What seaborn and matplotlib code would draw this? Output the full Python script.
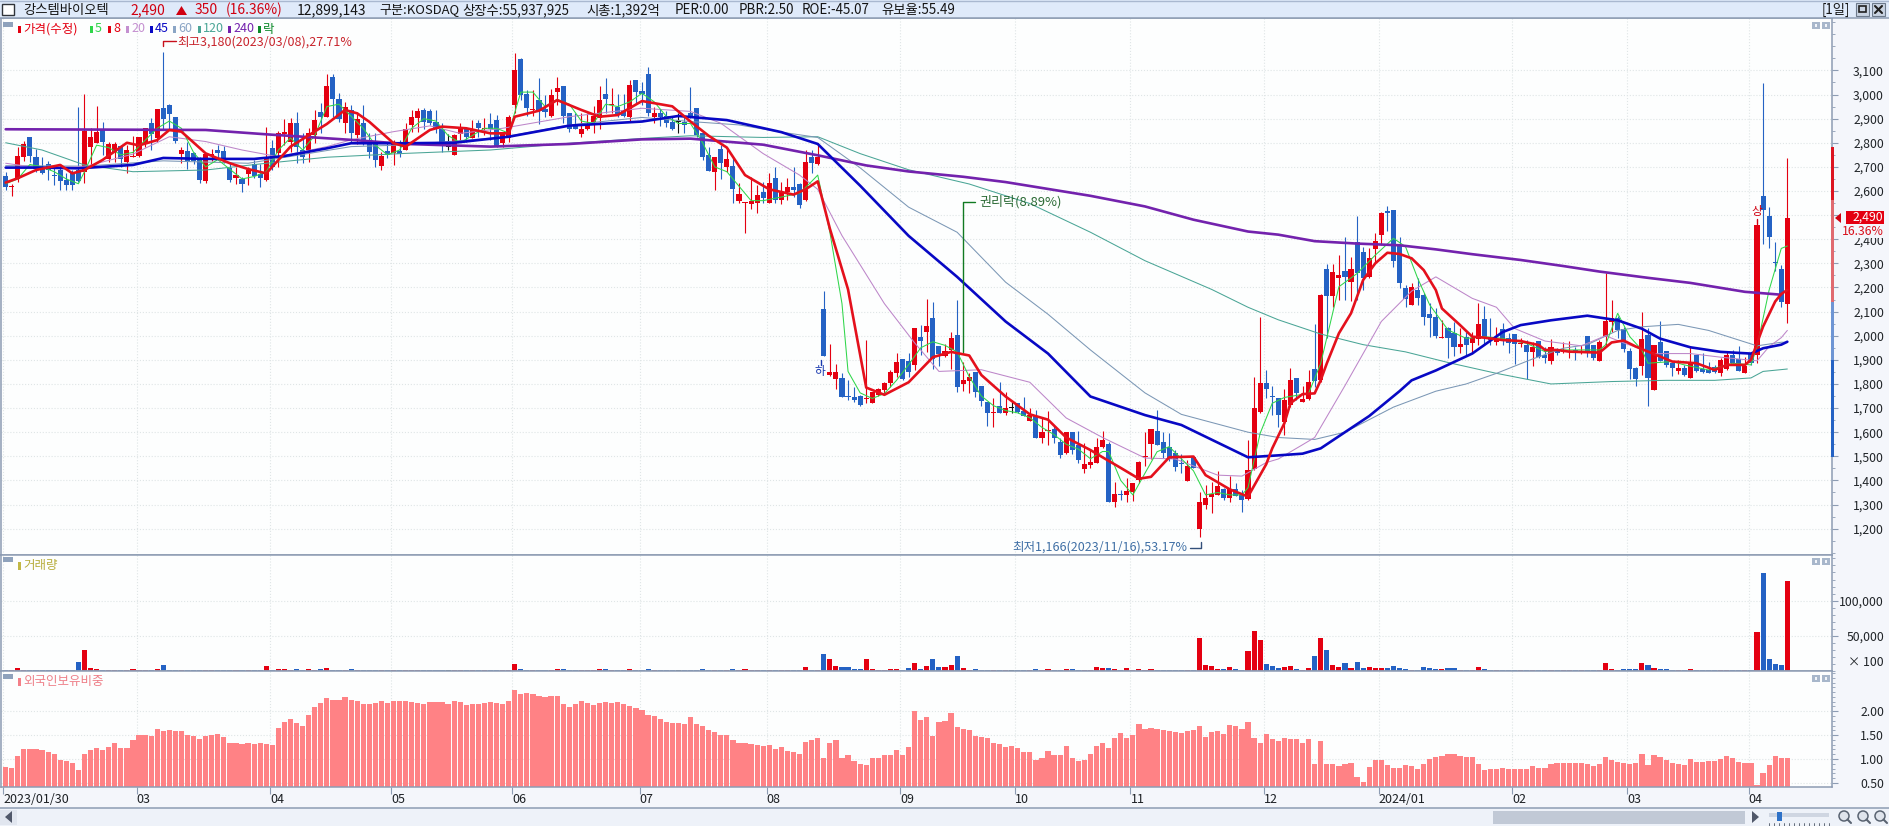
import numpy as np
import pandas as pd
import seaborn as sns
import matplotlib.pyplot as plt
from matplotlib.patches import Rectangle, Circle, Polygon
from matplotlib.ticker import MultipleLocator

# candles (price won)
opens = [
    2663,2615,2648,2739,2822,2739,2693,2710,2666,2689,
    2645,2675,2687,2680,2783,2800,2855,2731,2763,2786,
    2721,2739,2745,2797,2883,2818,2946,2956,2905,2753,
    2767,2756,2735,2642,2745,2770,2764,2694,2653,2648,
    2671,2712,2670,2646,2777,2756,2838,2805,2883,2770,
    2770,2832,2929,2908,3074,2980,2883,2936,2832,2883,
    2812,2798,2705,2767,2759,2765,2772,2873,2901,2935,
    2933,2886,2855,2783,2750,2836,2861,2821,2880,2859,
    2877,2894,2797,2818,2955,3147,3002,2935,2977,2942,
    2910,3011,3035,2922,2877,2836,2858,2887,2901,3002,
    2955,2949,2935,2908,3060,3015,3085,2905,2922,2911,
    2884,2887,2887,2924,2946,2839,2749,2680,2773,2698,
    2704,2560,2549,2546,2552,2597,2552,2653,2563,2594,
    2615,2629,2563,2739,2712,2109,1837,1820,1823,1751,
    1747,1751,1736,1722,1754,1775,1805,1847,1902,1895,
    1879,1996,2015,2072,1957,1917,1941,2003,1800,1814,
    1848,1793,1727,1681,1710,1681,1702,1720,1689,1648,
    1666,1578,1604,1612,1558,1512,1599,1547,1446,1464,
    1474,1540,1550,1312,1344,1341,1353,1402,1496,1551,
    1605,1558,1537,1515,1474,1399,1496,1199,1299,1333,
    1340,1364,1328,1363,1340,1322,1446,1685,1803,1750,
    1740,1644,1713,1823,1726,1736,1861,1816,2275,2164,
    2241,2268,2224,2387,2346,2242,2359,2417,2517,2521,
    2373,2196,2129,2189,2167,2090,2076,1992,2030,2010,
    1954,1996,1971,1986,2069,1996,1975,2026,1989,2007,
    1966,1961,1934,1978,1920,1895,1941,1931,1931,1941,
    1931,1999,1962,1897,1996,2056,2075,2027,1937,1868,
    1876,2003,1775,1976,1938,1886,1854,1868,1826,1920,
    1862,1858,1872,1847,1861,1920,1902,1847,1925,1920,
    2580,2497,2305,2276,2130]
closes = [
    2615,2617,2745,2793,2745,2693,2675,2689,2662,2642,
    2624,2624,2642,2850,2822,2843,2804,2794,2794,2731,
    2770,2745,2822,2863,2836,2939,2899,2919,2808,2772,
    2721,2725,2645,2752,2752,2757,2727,2646,2666,2629,
    2687,2662,2652,2742,2701,2839,2843,2883,2784,2742,
    2839,2894,2908,3035,2980,2897,2950,2839,2897,2812,
    2763,2729,2745,2749,2795,2755,2859,2905,2931,2886,
    2883,2859,2804,2783,2832,2855,2825,2852,2862,2863,
    2859,2786,2844,2908,3101,2998,2946,2942,2933,2928,
    2998,3029,2910,2858,2858,2859,2877,2912,2977,2981,
    2960,2919,2910,3039,3010,3002,2924,2924,2905,2883,
    2859,2887,2873,2901,2832,2742,2684,2742,2717,2731,
    2608,2588,2556,2558,2583,2570,2632,2563,2597,2615,
    2604,2542,2719,2717,2739,1917,1851,1851,1747,1744,
    1733,1713,1740,1768,1778,1802,1848,1890,1819,1848,
    2031,1980,2042,1902,1923,1938,1989,1789,1816,1830,
    1768,1731,1678,1685,1681,1699,1702,1685,1669,1671,
    1578,1600,1607,1574,1505,1602,1526,1485,1468,1475,
    1537,1568,1312,1342,1338,1356,1388,1475,1501,1612,
    1547,1515,1487,1457,1468,1460,1453,1310,1326,1342,
    1377,1326,1364,1337,1319,1443,1699,1803,1778,1747,
    1671,1733,1816,1764,1737,1807,1814,2169,2164,2263,
    2252,2245,2275,2261,2238,2321,2393,2507,2510,2311,
    2220,2153,2200,2155,2079,2073,2000,1996,1992,1954,
    1966,1961,1989,2047,1989,1982,1985,1982,1971,1964,
    1971,1934,1954,1913,1907,1952,1930,1937,1937,1927,
    1933,1930,1907,1976,2061,2072,2024,1945,1862,1819,
    1987,1826,1962,1897,1879,1868,1868,1838,1886,1854,
    1851,1847,1851,1900,1920,1886,1855,1875,1886,2459,
    2522,2411,2300,2140,2490]
highs = [
    2680,2631,2781,2808,2825,2776,2742,2725,2700,2707,
    2673,2687,2949,3002,2863,2952,2887,2804,2804,2790,
    2790,2828,2825,2863,2901,2942,3177,2960,2908,2781,
    2804,2763,2742,2753,2775,2790,2785,2721,2700,2660,
    2700,2730,2714,2867,2810,2850,2900,2903,2929,2839,
    2863,2935,2964,3085,3085,3005,2970,2957,2929,2957,
    2839,2839,2763,2798,2812,2810,2880,2935,2946,2946,
    2942,2935,2883,2836,2836,2880,2866,2894,2894,2901,
    2922,2915,2846,2915,3173,3150,3018,3018,3067,2998,
    3021,3071,3035,2924,2922,2922,2922,2952,3035,3067,
    3025,3002,3002,3060,3060,3053,3115,2949,2942,2933,
    2905,2922,2905,3032,2946,2846,2783,2742,2790,2777,
    2742,2632,2556,2659,2625,2639,2673,2701,2639,2652,
    2698,2634,2770,2770,2798,2187,1966,1883,1844,1816,
    1789,1754,1982,1768,1782,1809,1858,1927,1902,1927,
    2031,2044,2151,2138,1957,1965,2017,2148,1892,1844,
    1848,1793,1727,1740,1809,1765,1727,1720,1747,1699,
    1690,1659,1689,1625,1574,1602,1599,1606,1554,1526,
    1574,1606,1561,1395,1360,1409,1388,1482,1599,1612,
    1692,1602,1595,1526,1510,1485,1496,1353,1381,1395,
    1440,1370,1418,1388,1360,1568,1827,2076,1858,1791,
    1740,1778,1865,1823,1791,1858,2049,2173,2297,2297,
    2334,2408,2328,2496,2369,2362,2424,2514,2538,2521,
    2411,2210,2217,2238,2176,2134,2113,2065,2037,2058,
    2030,2017,2017,2137,2123,2072,2037,2051,2010,2007,
    1989,1982,1975,1978,1954,1985,1950,1976,1980,1955,
    1962,1999,1962,1983,2262,2148,2080,2038,1948,1872,
    2097,2031,1962,2061,1938,1893,1900,1879,1958,1920,
    1930,1889,1879,1906,1934,1941,1958,1911,1928,2459,
    3049,2533,2390,2294,2736]
lows = [
    2606,2580,2638,2725,2721,2680,2670,2645,2624,2606,
    2604,2604,2638,2634,2698,2797,2749,2721,2721,2698,
    2673,2739,2742,2783,2770,2804,2852,2852,2797,2717,
    2693,2711,2634,2634,2725,2740,2715,2638,2631,2597,
    2625,2655,2618,2640,2687,2700,2790,2760,2715,2715,
    2721,2797,2840,2908,2908,2887,2839,2798,2795,2791,
    2736,2701,2687,2736,2708,2740,2770,2846,2846,2859,
    2873,2839,2763,2770,2749,2811,2804,2818,2825,2832,
    2811,2783,2781,2804,2922,2977,2910,2910,2876,2908,
    2905,2956,2880,2846,2855,2822,2852,2841,2859,2922,
    2924,2905,2905,2887,2960,2956,2910,2883,2869,2866,
    2852,2839,2841,2901,2825,2728,2684,2604,2648,2680,
    2552,2549,2424,2524,2510,2549,2549,2549,2546,2563,
    2574,2528,2560,2673,2708,1917,1833,1778,1747,1733,
    1726,1710,1722,1720,1750,1754,1789,1827,1816,1827,
    1858,1920,1934,1861,1874,1910,1861,1768,1772,1761,
    1745,1710,1626,1622,1681,1671,1681,1678,1667,1645,
    1574,1556,1548,1557,1492,1510,1510,1471,1432,1450,
    1471,1533,1312,1291,1319,1312,1316,1391,1460,1487,
    1547,1494,1482,1440,1432,1396,1450,1166,1280,1264,
    1340,1319,1312,1335,1270,1320,1443,1678,1743,1671,
    1623,1588,1706,1733,1724,1734,1786,1809,1989,2120,
    2148,2148,2145,2148,2189,2240,2300,2376,2435,2286,
    2196,2118,2127,2127,2044,1996,1989,1990,1906,1917,
    1927,1920,1927,1961,1961,1961,1961,1961,1927,1883,
    1952,1819,1874,1906,1888,1883,1920,1928,1907,1900,
    1925,1911,1900,1895,1962,2017,1990,1934,1820,1792,
    1837,1710,1773,1895,1869,1831,1842,1835,1824,1851,
    1847,1844,1845,1831,1858,1880,1852,1845,1880,1886,
    2381,2363,2270,2121,2054]

volumes = [
    2000,2000,4700,2000,2000,2000,2000,2000,2000,2000,
    2000,2000,13200,30200,4700,3300,2000,2000,2000,2000,
    2000,3300,2000,2000,2000,3300,9000,2000,2000,2000,
    2000,2000,2000,2000,2000,2000,2000,2000,2000,2000,
    2000,2000,2000,7500,2000,3300,3300,2000,3300,2000,
    3300,2000,3300,4700,2000,2000,2000,3300,2000,2000,
    2000,2000,2000,2000,2000,2000,2000,2000,2000,2000,
    2000,2000,2000,2000,2000,2000,2000,2000,2000,2000,
    2400,2000,2000,2000,10400,3300,2000,2000,2000,2000,
    2000,3300,3300,2000,2000,2000,2000,2000,3300,3300,
    2000,2000,2000,3300,2000,2000,3300,2000,2000,2000,
    2000,2000,2000,2400,2000,3300,2000,2000,2000,2000,
    3300,2000,3300,2000,2000,2000,2000,2000,2000,2000,
    2000,2000,6100,2000,2000,24500,17500,7500,6100,6100,
    3300,3300,17500,3300,2000,2000,3300,3300,2000,4200,
    11800,3300,7500,17500,6100,6100,9000,21700,4700,2400,
    3300,2000,2000,2000,2000,2000,2000,2000,2000,2000,
    3300,2000,3300,2000,2000,3300,3300,2000,2000,2000,
    6100,5200,4700,3300,2000,4700,2000,3300,2000,3300,
    2000,2000,2000,2000,2000,2000,2000,47200,9000,7500,
    3300,3300,6100,3300,2400,28800,57100,44400,10400,7500,
    4700,6100,7500,3300,2400,4700,21700,47200,30200,9000,
    6100,11800,4700,13200,4700,6100,4700,4700,4700,7500,
    4700,3300,2400,2400,6100,4700,3300,3300,4700,4700,
    2400,2400,2400,6100,3300,2000,2000,2000,2000,2000,
    2000,2000,2000,2000,2000,2000,2000,2000,2000,2000,
    2000,2000,2000,2000,11800,3300,2000,3300,3300,3300,
    11800,9000,4700,3300,3300,2000,2000,2000,3300,2000,
    2000,2000,2000,2000,2000,2000,2400,2000,2000,55700,
    138800,17500,10400,9000,127900]

foreign_ratio = [
    0.83,0.81,1.06,1.21,1.21,1.21,1.19,1.15,1.11,0.98,
    0.96,0.92,0.77,1.11,1.19,1.23,1.19,1.25,1.34,1.23,
    1.23,1.40,1.50,1.50,1.48,1.63,1.59,1.61,1.59,1.59,
    1.50,1.48,1.42,1.48,1.50,1.52,1.46,1.34,1.34,1.31,
    1.34,1.31,1.34,1.31,1.29,1.65,1.78,1.84,1.75,1.69,
    1.92,2.09,2.17,2.28,2.24,2.24,2.30,2.24,2.21,2.15,
    2.15,2.17,2.21,2.17,2.21,2.21,2.21,2.19,2.17,2.15,
    2.19,2.19,2.19,2.15,2.21,2.19,2.13,2.15,2.15,2.17,
    2.19,2.17,2.15,2.21,2.44,2.36,2.38,2.36,2.32,2.30,
    2.32,2.32,2.15,2.09,2.15,2.21,2.17,2.13,2.17,2.19,
    2.17,2.19,2.15,2.11,2.07,2.03,1.92,1.90,1.84,1.78,
    1.75,1.75,1.73,1.88,1.73,1.69,1.61,1.57,1.50,1.50,
    1.40,1.34,1.34,1.31,1.29,1.27,1.29,1.21,1.25,1.17,
    1.15,1.11,1.36,1.40,1.44,1.02,1.34,1.40,1.02,1.09,
    0.96,0.90,0.88,1.02,1.02,1.09,1.09,1.19,1.09,1.25,
    2.00,1.82,1.88,1.48,1.78,1.80,1.96,1.67,1.63,1.61,
    1.48,1.46,1.44,1.34,1.31,1.25,1.27,1.23,1.15,1.15,
    0.98,1.02,1.17,1.09,1.09,1.27,1.02,0.96,0.98,1.11,
    1.27,1.34,1.23,1.44,1.55,1.44,1.50,1.73,1.63,1.65,
    1.63,1.61,1.59,1.57,1.55,1.59,1.61,1.69,1.46,1.57,
    1.59,1.52,1.71,1.69,1.63,1.78,1.44,1.34,1.52,1.42,
    1.38,1.44,1.42,1.42,1.34,1.42,0.90,1.38,0.90,0.90,
    0.86,0.90,0.92,0.63,0.52,0.83,0.98,0.98,0.88,0.81,
    0.81,0.88,0.86,0.79,0.90,1.00,1.04,1.06,1.11,1.11,
    1.06,1.04,1.04,0.90,0.77,0.79,0.79,0.81,0.79,0.79,
    0.79,0.79,0.86,0.81,0.81,0.90,0.92,0.92,0.92,0.92,
    0.92,0.90,0.86,0.90,1.04,0.98,0.94,0.92,0.90,0.92,
    1.11,0.88,1.09,1.04,0.98,0.92,0.90,0.88,1.00,0.94,
    0.94,0.96,0.96,1.00,1.06,1.02,0.94,0.92,0.92,0.46,
    0.71,0.88,1.06,1.02,1.02]

# moving averages, read at the bends of each line
ma5_days = [0,2,4,6,8,10,12,13,15,17,19,21,23,25,27,29,31,33,35,37,39,41,43,45,47,49,51,53,55,57,59,61,63,65,67,69,71,73,75,77,79,81,83,85,87,89,91,93,95,97,99,101,103,105,107,109,111,113,115,117,119,121,123,125,127,129,131,133,134,136,138,139,141,143,145,147,149,151,153,155,157,159,161,163,165,167,169,171,173,175,177,179,181,182,184,186,188,190,192,194,196,198,200,202,204,205,207,209,211,215,217,220,223,226,229,231,233,235,238,241,244,247,251,254,256,263,264,266,268,270,271,275,277,281,285,288,289,291,293,294]
ma5_vals = [2630,2650,2710,2700,2680,2650,2630,2680,2790,2780,2750,2760,2810,2860,2890,2860,2760,2700,2730,2690,2650,2660,2680,2770,2820,2770,2830,2950,2960,2910,2860,2790,2750,2770,2860,2900,2890,2830,2800,2830,2860,2860,2840,3010,3010,2950,2980,2960,2890,2880,2960,2950,2970,3005,2970,2910,2880,2880,2800,2700,2680,2620,2560,2560,2570,2580,2590,2640,2666,2429,2133,1852,1763,1740,1760,1815,1880,1950,1975,1960,1933,1830,1750,1710,1690,1680,1660,1620,1590,1550,1530,1490,1520,1520,1400,1340,1430,1519,1540,1490,1440,1340,1350,1340,1340,1370,1595,1720,1744,1761,1885,2203,2258,2334,2404,2369,2238,2127,2024,1989,1996,1989,1968,1934,1941,1941,1962,2093,1996,1941,1886,1893,1879,1858,1886,1879,1955,2190,2362,2372]

ma8_days = [0,2,5,9,11,13,16,20,22,25,27,29,33,37,40,43,47,53,56,58,60,64,66,70,72,76,80,83,84,88,91,95,98,101,105,110,113,116,119,122,126,130,132,134,136,139,142,145,149,153,156,159,161,165,169,172,175,179,181,184,187,189,192,196,198,202,205,208,209,211,212,214,216,217,218,220,222,224,226,228,230,232,234,236,237,240,242,244,247,250,253,254,256,258,263,265,267,269,275,279,282,284,287,288,290,292,293,294]
ma8_vals = [2635,2653,2687,2708,2673,2687,2729,2800,2789,2811,2853,2846,2756,2715,2691,2673,2784,2878,2936,2922,2887,2798,2784,2853,2867,2860,2839,2839,2908,2933,2977,2936,2908,2915,2973,2951,2888,2829,2780,2666,2607,2585,2607,2640,2444,2192,1785,1755,1807,1911,1933,1918,1837,1748,1674,1652,1578,1526,1496,1452,1407,1415,1496,1499,1422,1363,1333,1467,1533,1637,1720,1758,1761,1816,1885,2010,2093,2231,2300,2344,2339,2321,2272,2189,2113,2044,1996,1992,1982,1978,1961,1941,1941,1934,1930,1972,1980,1955,1893,1886,1858,1879,1879,1900,2038,2142,2173,2190]

ma20_days = [0,6,13,21,27,33,39,45,53,57,64,70,75,82,93,105,113,118,125,131,134,138,145,150,154,161,169,175,181,188,193,200,204,208,210,214,216,221,227,232,236,242,246,249,254,260,264,267,272,278,283,289,291,293,294]
ma20_vals = [2715,2694,2701,2753,2825,2805,2770,2742,2784,2812,2846,2870,2839,2860,2908,2943,2930,2881,2755,2666,2607,2415,2133,1970,1852,1859,1807,1659,1578,1493,1489,1422,1418,1474,1489,1548,1578,1793,2059,2185,2244,2155,2118,2030,1978,1958,2000,1970,1926,1926,1911,1896,1955,1992,2022]

ma45_days = [0,6,12,21,26,33,41,46,53,57,66,74,83,93,105,111,119,128,134,141,149,157,165,172,179,188,194,205,210,214,217,221,225,230,232,236,242,247,250,255,261,266,270,273,278,283,288,290,293,294]
ma45_vals = [2697,2697,2694,2708,2737,2733,2733,2745,2777,2798,2798,2800,2825,2871,2888,2911,2894,2844,2795,2622,2414,2244,2059,1926,1748,1671,1630,1496,1504,1511,1533,1600,1667,1770,1815,1856,1926,2015,2044,2064,2083,2064,2029,1988,1952,1933,1926,1948,1963,1975]

ma60_days = [0,13,26,40,57,66,82,93,105,113,121,128,134,141,149,157,165,172,179,188,194,205,210,216,221,229,236,241,246,252,257,261,266,270,276,281,289,293,294]
ma60_vals = [2705,2703,2725,2715,2784,2791,2823,2874,2905,2888,2874,2844,2822,2696,2533,2429,2222,2089,1941,1763,1674,1600,1578,1570,1600,1704,1770,1800,1844,1904,1948,1963,2022,2037,2047,2022,1958,1973,1973]

ma120_days = [0,6,13,21,33,43,53,66,80,93,105,113,125,134,141,149,159,169,179,188,199,205,210,217,224,231,238,246,255,265,274,282,288,290,294]
ma120_vals = [2800,2770,2708,2680,2687,2715,2740,2756,2770,2798,2818,2829,2822,2825,2755,2688,2629,2548,2429,2311,2192,2118,2066,2007,1963,1933,1889,1844,1800,1810,1815,1815,1825,1852,1862]

ma240_days = [0,33,43,57,66,80,93,105,113,125,134,142,149,158,165,179,188,196,205,210,216,223,230,236,242,250,257,263,271,278,287,293]
ma240_vals = [2856,2853,2835,2812,2795,2784,2795,2814,2817,2792,2748,2706,2681,2659,2637,2580,2536,2481,2432,2419,2392,2382,2375,2358,2338,2314,2289,2266,2240,2219,2182,2170]

month_days = [0,22,44,64,84,105,126,148,167,186,208,227,249,268,288]
month_labels = ['2023/01/30','03','04','05','06','07','08','09','10','11','12','2024/01','02','03','04']
price_ticks = list(range(1200, 3200, 100))

W, H = 1889, 826
LEFT, RIGHT = 1, 1832
HEAD, PRICE_B, VOL_B, FOR_B, DATE_B = 18, 554.5, 671.3, 787, 808
FIRST_BAR, BAR_STEP = 5.7, 6.06

UP, DOWN, FLAT = '#e40011', '#2462c4', '#101010'
GRID = '#dfe5e6'
EDGE = '#8d9cb3'
PANEL_BG = '#fdfefe'
SIDE_BG = '#f4f6fb'
TICK_SIZE = 8.8

sns.set_theme(style='white')
plt.rcParams['font.family'] = ['Noto Sans CJK KR', 'DejaVu Sans']
plt.rcParams['axes.unicode_minus'] = False

days = np.arange(len(closes))
o = np.array(opens, float)
c = np.array(closes, float)
bar_colors = [UP if b > a else DOWN if b < a else FLAT for a, b in zip(o, c)]

fig = plt.figure(figsize=(W / 100, H / 100), dpi=100, facecolor=SIDE_BG)


def panel(top, bottom):
    ax = fig.add_axes([LEFT / W, 1 - bottom / H, (RIGHT - LEFT) / W, (bottom - top) / H])
    ax.set_facecolor(PANEL_BG)
    for s in ax.spines.values():
        s.set_color(EDGE)
        s.set_linewidth(1.1)
    ax.yaxis.tick_right()
    ax.tick_params(axis='y', which='major', length=4, width=0.8, color=EDGE,
                   labelsize=TICK_SIZE, labelcolor='#202428', pad=33.4)
    ax.tick_params(axis='y', which='minor', length=2, width=0.6, color=EDGE, right=True)
    ax.set_axisbelow(True)
    return ax


def finish_x(ax):
    ax.set_xlim((LEFT - FIRST_BAR) / BAR_STEP, (RIGHT - FIRST_BAR) / BAR_STEP)
    ax.set_xticks(np.array(month_days) - 0.4)
    ax.set_xlabel('')
    ax.set_ylabel('')
    ax.grid(True, axis='both', which='major', color=GRID, linestyle=':', linewidth=0.8)
    for t in ax.get_yticklabels():
        t.set_ha('right')


# price panel
ax1 = panel(HEAD, PRICE_B)
ax1.vlines(days, lows, highs, colors=bar_colors, linewidth=0.8, zorder=2)
ax1.bar(days, np.maximum(np.abs(c - o), 4), bottom=np.minimum(o, c), width=0.84,
        color=bar_colors, linewidth=0, zorder=3)

ma_styles = [
    (ma120_days, ma120_vals, '#4aa596', 0.75),
    (ma60_days, ma60_vals, '#7b97b5', 0.75),
    (ma20_days, ma20_vals, '#bd86c9', 0.75),
    (ma5_days, ma5_vals, '#2fd64a', 0.75),
    (ma240_days, ma240_vals, '#7322ad', 1.9),
    (ma45_days, ma45_vals, '#0808c4', 1.9),
    (ma8_days, ma8_vals, '#e4101c', 1.9),
]
for d, v, col, lw in ma_styles:
    sns.lineplot(x=d, y=v, color=col, linewidth=lw, estimator=None, sort=False,
                 legend=False, ax=ax1, zorder=4)

ax1.set_ylim(3100 - (PRICE_B - 70.4) / 0.2412, 3100 + (70.4 - HEAD) / 0.2412)
ax1.set_yticks(price_ticks)
ax1.set_yticklabels([f'{p:,}' for p in price_ticks])
ax1.yaxis.set_minor_locator(MultipleLocator(50))
finish_x(ax1)
ax1.tick_params(axis='x', length=0, labelbottom=False)

# volume panel
vol_df = pd.DataFrame({'day': days, 'volume': volumes, 'col': bar_colors})
ax2 = panel(PRICE_B, VOL_B)
sns.barplot(data=vol_df, x='day', y='volume', hue='col',
            palette={UP: UP, DOWN: DOWN, FLAT: FLAT}, native_scale=True, dodge=False,
            width=0.84, saturation=1, linewidth=0, errorbar=None, legend=False, ax=ax2)
ax2.set_ylim(0, (VOL_B - PRICE_B) / 0.000706)
ax2.set_yticks([50000, 100000])
ax2.set_yticklabels(['50,000', '100,000'])
ax2.yaxis.set_minor_locator(MultipleLocator(10000))
finish_x(ax2)
ax2.tick_params(axis='x', length=0, labelbottom=False)

# foreign holding panel
ax3 = panel(VOL_B, FOR_B)
sns.barplot(x=days, y=foreign_ratio, native_scale=True, color='#ff8285', width=0.86,
            saturation=1, linewidth=0, errorbar=None, ax=ax3)
ax3.set_ylim(1 + (759 - FOR_B) / 47.8, 1 + (759 - VOL_B) / 47.8)
ax3.set_yticks([0.5, 1.0, 1.5, 2.0])
ax3.set_yticklabels(['0.50', '1.00', '1.50', '2.00'])
ax3.yaxis.set_minor_locator(MultipleLocator(0.1))
finish_x(ax3)
ax3.set_xticklabels(month_labels, ha='left')
ax3.tick_params(axis='x', length=5, width=0.8, color=EDGE, labelsize=9, labelcolor='#1c2024', pad=-1, bottom=True)

# window chrome and notes, in pixels of the picture
top = fig.add_axes([0, 0, 1, 1], zorder=10)
top.set_xlim(0, W)
top.set_ylim(H, 0)
top.axis('off')
top.patch.set_alpha(0)


def label(x, y, s, color='#202020', size=9, ha='left', **kw):
    top.text(x, y, s, color=color, fontsize=size, ha=ha, va='center', **kw)


def box(x0, y0, x1, y1, color, **kw):
    top.add_patch(Rectangle((x0, y0), x1 - x0, y1 - y0, facecolor=color, linewidth=0, **kw))


# header
box(0, 0, W, HEAD, '#dfeafa')
top.plot([0, W], [HEAD, HEAD], color=EDGE, lw=1.1)
top.plot([0, W], [0.5, 0.5], color='#a9b8d0', lw=1)
top.add_patch(Rectangle((2, 4), 12, 11, facecolor='white', edgecolor='#30343a', linewidth=1))
HEAD_Y = 10
label(23, HEAD_Y, '강스템바이오텍', '#141414', 9.6)
label(130, HEAD_Y, '2,490', '#d00010', 10)
top.add_patch(Polygon([[176, 15], [187, 15], [181.5, 6]], facecolor='#d00010', linewidth=0))
label(195, HEAD_Y, '350', '#d00010', 10)
label(226, HEAD_Y, '(16.36%)', '#d00010', 10)
label(297, HEAD_Y, '12,899,143', '#141414', 10)
label(379, HEAD_Y, '구분:KOSDAQ', '#141414', 9.4)
label(462, HEAD_Y, '상장수:55,937,925', '#141414', 9.6)
label(586, HEAD_Y, '시총:1,392억', '#141414', 9.6)
label(675, HEAD_Y, 'PER:0.00', '#141414', 9.6)
label(739, HEAD_Y, 'PBR:2.50', '#141414', 9.6)
label(802, HEAD_Y, 'ROE:-45.07', '#141414', 9.6)
label(881, HEAD_Y, '유보율:55.49', '#141414', 9.6)
label(1822, HEAD_Y, '[1일]', '#141414', 9.6)
for bx in (1856, 1872):
    top.add_patch(Rectangle((bx, 3), 13, 13, facecolor='#c9d3e2', edgecolor='#6d7a8c', linewidth=0.8))
top.add_patch(Rectangle((1859, 6), 7, 6, facecolor='none', edgecolor='#202020', linewidth=1.2))
top.plot([1875, 1882], [6, 13], color='#202020', lw=1.5)
top.plot([1875, 1882], [13, 6], color='#202020', lw=1.5)

# legend row
box(3, 22, 13, 27, '#8fa2bc')
legend_row = [(18, '가격(수정)', '#e40011'), (90, '5', '#2fd64a'), (108, '8', '#e40011'),
              (126, '20', '#c48fd0'), (150, '45', '#0808c4'), (173, '60', '#8aa5c5'),
              (198, '120', '#4aa596'), (228, '240', '#7322ad'), (258, '락', '#0c8a2a')]
for x, s, col in legend_row:
    box(x, 25.5, x + 3, 33, col)
    label(x + 5, 29, s, col, 9)

# per panel icons
for py in (25, 561, 678):
    for ix in (1812, 1822):
        box(ix, py - 3, ix + 8, py + 4, '#a8b7cb')
        box(ix + 3, py - 1, ix + 5, py + 2, '#f2f5fa')

# highest note
top.plot([176, 163, 163], [41, 41, 46], color='#c8101c', lw=1)
label(177, 42, '최고3,180(2023/03/08),27.71%', '#c8242c', 9)

# rights-off note
top.plot([975, 963, 963], [202, 202, 352], color='#117a22', lw=1)
label(979, 202, '권리락(8.89%)', '#2b6a35', 9.4)

# lowest note
label(1187, 547, '최저1,166(2023/11/16),53.17%', '#3f6fa5', 9, ha='right')
top.plot([1190, 1201, 1201], [548, 548, 542], color='#33507a', lw=1)

# limit marks
label(820, 371, '하', '#1a3ab0', 8.5, ha='center')
top.plot([821, 821], [360, 365], color='#1a3ab0', lw=1)
label(1757, 212, '상', '#d00010', 8.5, ha='center')
top.plot([1757, 1757], [219, 224], color='#d00010', lw=1)

# current price scale marks
box(1831, 147, 1834, 200, '#dc1420')
box(1831, 200, 1834, 302, '#e06a70')
box(1831, 302, 1834, 360, '#6e95d4')
box(1831, 360, 1834, 457, '#2462c4')
top.add_patch(Polygon([[1835, 218], [1841, 213], [1841, 223]], facecolor='#d00010', linewidth=0))
box(1846, 211, 1884, 224, '#e40011')
label(1883, 217.5, '2,490', 'white', TICK_SIZE, ha='right')
box(1846, 225, 1886, 238, SIDE_BG)
label(1884, 231.5, '16.36%', '#d8101c', TICK_SIZE, ha='right')
label(1884, 662, '× 100', '#202428', TICK_SIZE, ha='right')

# panel titles
box(3, 557, 13, 562, '#8fa2bc')
box(18, 562, 21, 570, '#c2b845')
label(23, 566, '거래량', '#b8ae3e', 9)
box(3, 674, 13, 679, '#8fa2bc')
box(18, 678, 21, 686, '#f47f88')
label(23, 682, '외국인보유비중', '#ee7f88', 9)

# lower bar
box(0, DATE_B, W, H, '#eef2f9')
top.plot([0, W], [DATE_B, DATE_B], color=EDGE, lw=1.1)
box(0, 810, 17, 825, '#e1e6ef')
top.add_patch(Polygon([[5, 817], [12, 811], [12, 823]], facecolor='#50586a', linewidth=0))
box(1493, 811, 1745, 824, '#c1c9d6')
top.add_patch(Polygon([[1752, 811], [1752, 823], [1759, 817]], facecolor='#50586a', linewidth=0))
box(1769, 813, 1829, 817, '#cfd6e2')
box(1777, 812, 1782, 821, '#2e72c8')
for tx in np.linspace(1769, 1829, 13):
    top.plot([tx, tx], [823, 826], color='#505a68', lw=0.6)
for cx in (1844, 1863, 1880):
    top.add_patch(Circle((cx, 816), 5, facecolor='#dfe4ec', edgecolor='#5a6472', linewidth=1.1))
    top.plot([cx + 3.5, cx + 7], [819.5, 823], color='#5a6472', lw=1.5)

fig.savefig('out.png', dpi=100, facecolor=fig.get_facecolor())
